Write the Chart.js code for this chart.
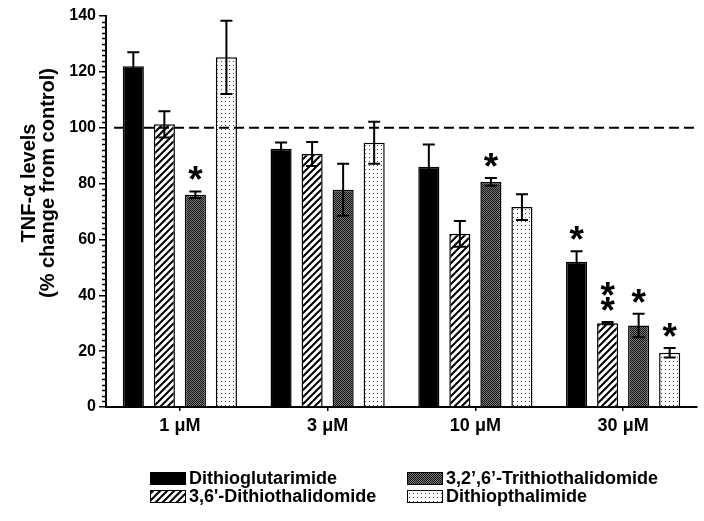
<!DOCTYPE html>
<html>
<head>
<meta charset="utf-8">
<script src="https://cdn.jsdelivr.net/npm/chart.js@4.4.0/dist/chart.umd.min.js"></script>
<style>
  body { margin: 0; background: #fff; }
</style>
</head>
<body>
<canvas id="grafico" width="704" height="521"></canvas>
<script>
// dados
const categorias = ['1 μM', '3 μM', '10 μM', '30 μM'];
const nomes = ['Dithioglutarimide', "3,6'-Dithiothalidomide", '3,2’,6’-Trithiothalidomide', 'Dithiopthalimide'];

const glutarimida = [122, 92.5, 86, 52];
const glutarimidaErro = [5, 2.2, 8, 3.8];
const ditio = [101.2, 90.6, 62, 30];
const ditioErro = [4.7, 4.3, 4.6, 0.4];
const tritio = [76, 77.8, 80.6, 29.2];
const tritioErro = [1.2, 9.3, 1.4, 4.2];
const ftalimida = [125.2, 94.6, 71.6, 19.4];
const ftalimidaErro = [13.1, 7.5, 4.6, 1.7];

// asteriscos de significância (quantidade por barra)
const asteriscos = [
  [0, 0, 0, 1],
  [0, 0, 0, 2],
  [1, 0, 1, 1],
  [0, 0, 0, 1]
];
const ticksY = [0, 20, 40, 60, 80, 100, 120, 140];
const controle = 100;

const erros = [glutarimidaErro, ditioErro, tritioErro, ftalimidaErro];

// padrões de preenchimento
function padrao(tam, desenha) {
  const c = document.createElement('canvas');
  c.width = tam; c.height = tam;
  const g = c.getContext('2d');
  desenha(g, tam);
  return g.createPattern(c, 'repeat');
}
const ctx = document.getElementById('grafico');
const hachurado = padrao(7, (g, t) => {
  g.fillStyle = '#fff'; g.fillRect(0, 0, t, t);
  g.strokeStyle = '#000'; g.lineWidth = 2;
  g.beginPath();
  g.moveTo(-1, t + 1); g.lineTo(t + 1, -1);
  g.moveTo(-1, 1); g.lineTo(1, -1);
  g.moveTo(t - 1, t + 1); g.lineTo(t + 1, t - 1);
  g.stroke();
});
const cinza = padrao(2, (g) => {
  g.fillStyle = '#7a7a7a'; g.fillRect(0, 0, 2, 2);
  g.fillStyle = '#111'; g.fillRect(0, 0, 1, 1); g.fillRect(1, 1, 1, 1);
});
const pontilhado = padrao(4, (g) => {
  g.fillStyle = '#fff'; g.fillRect(0, 0, 4, 4);
  g.fillStyle = '#444'; g.fillRect(1, 1, 1, 1);
});
const cores = ['#000', hachurado, cinza, pontilhado];
const valores = [glutarimida, ditio, tritio, ftalimida];

const fonte = 'Liberation Sans, Arial, sans-serif';

const extras = {
  id: 'extras',
  afterDatasetsDraw(chart) {
    const { ctx, chartArea, scales: { y } } = chart;
    ctx.save();
    // barras de erro
    ctx.strokeStyle = '#000';
    ctx.lineWidth = 2;
    chart.data.datasets.forEach((ds, i) => {
      chart.getDatasetMeta(i).data.forEach((bar, j) => {
        const v = ds.data[j], e = erros[i][j];
        const yt = y.getPixelForValue(v + e), yb = y.getPixelForValue(v - e);
        ctx.beginPath();
        ctx.moveTo(bar.x, yt); ctx.lineTo(bar.x, yb);
        ctx.moveTo(bar.x - 6, yt); ctx.lineTo(bar.x + 6, yt);
        ctx.moveTo(bar.x - 6, yb); ctx.lineTo(bar.x + 6, yb);
        ctx.stroke();
      });
    });
    // linha tracejada do controle
    const yc = y.getPixelForValue(controle);
    ctx.setLineDash([10, 5]);
    ctx.beginPath();
    ctx.moveTo(chartArea.left + 8, yc); ctx.lineTo(chartArea.right, yc);
    ctx.stroke();
    ctx.setLineDash([]);
    // asteriscos
    ctx.fillStyle = '#000';
    ctx.font = 'bold 37px ' + fonte;
    ctx.textAlign = 'center';
    ctx.textBaseline = 'alphabetic';
    chart.data.datasets.forEach((ds, i) => {
      chart.getDatasetMeta(i).data.forEach((bar, j) => {
        const n = asteriscos[i][j];
        const topo = y.getPixelForValue(ds.data[j] + erros[i][j]);
        for (let k = 0; k < n; k++) {
          ctx.fillText('*', bar.x, topo + 1 - 15 * k);
        }
      });
    });
    ctx.restore();
  },
  afterDraw(chart) {
    const { ctx, chartArea, scales: { y } } = chart;
    ctx.save();
    // ticks menores
    ctx.strokeStyle = '#000';
    ctx.lineWidth = 1.5;
    ctx.beginPath();
    for (let v = 2; v < 140; v += 2) {
      if (v % 20 === 0) continue;
      const py = Math.round(y.getPixelForValue(v)) + 0.5;
      ctx.moveTo(chartArea.left - 4, py); ctx.lineTo(chartArea.left, py);
    }
    ctx.stroke();
    // título do eixo y
    ctx.fillStyle = '#000';
    ctx.font = 'bold 20px ' + fonte;
    ctx.textAlign = 'center';
    ctx.textBaseline = 'alphabetic';
    ctx.translate(0, 183);
    ctx.rotate(-Math.PI / 2);
    ctx.fillText('TNF-α levels', 0, 35);
    ctx.fillText('(% change from control)', 0, 54);
    ctx.restore();
    // legenda
    ctx.save();
    const colX = [150, 407];
    const linY = [472, 490];
    ctx.font = 'bold 18px ' + fonte;
    ctx.textBaseline = 'middle';
    ctx.textAlign = 'left';
    chart.data.datasets.forEach((ds, i) => {
      const x = colX[Math.floor(i / 2)], yy = linY[i % 2];
      ctx.fillStyle = ds.backgroundColor;
      ctx.fillRect(x, yy, 36, 13);
      ctx.strokeStyle = '#000';
      ctx.lineWidth = 1;
      ctx.strokeRect(x + 0.5, yy + 0.5, 35, 12);
      ctx.fillStyle = '#000';
      ctx.fillText(ds.label, x + 39, yy + 7);
    });
    ctx.restore();
  }
};

new Chart(ctx, {
  type: 'bar',
  data: {
    labels: categorias,
    datasets: nomes.map((nome, i) => ({
      label: nome,
      data: valores[i],
      backgroundColor: cores[i],
      borderColor: '#000',
      borderWidth: 1.5,
      categoryPercentage: 0.84,
      barPercentage: 0.68
    }))
  },
  options: {
    responsive: false,
    animation: false,
    layout: { padding: { left: 0, right: 7, top: 16, bottom: 74 } },
    plugins: { legend: { display: false }, tooltip: { enabled: false } },
    scales: {
      x: {
        afterFit: (s) => { s.height = 40; },
        grid: { offset: false, drawOnChartArea: false, drawTicks: true, tickLength: 4, color: '#000', lineWidth: 1.5 },
        border: { color: '#000', width: 2 },
        ticks: { color: '#000', padding: 4, font: { family: fonte, size: 18, weight: 'bold' } }
      },
      y: {
        min: 0,
        max: 140,
        afterFit: (s) => { s.width = 106; },
        afterBuildTicks: (s) => { s.ticks = ticksY.map(v => ({ value: v })); },
        grid: { drawOnChartArea: false, drawTicks: true, tickLength: 7, color: '#000', lineWidth: 1.5 },
        border: { color: '#000', width: 2 },
        ticks: { color: '#000', padding: 3, font: { family: fonte, size: 16, weight: 'bold' } }
      }
    }
  },
  plugins: [extras]
});
</script>
</body>
</html>
